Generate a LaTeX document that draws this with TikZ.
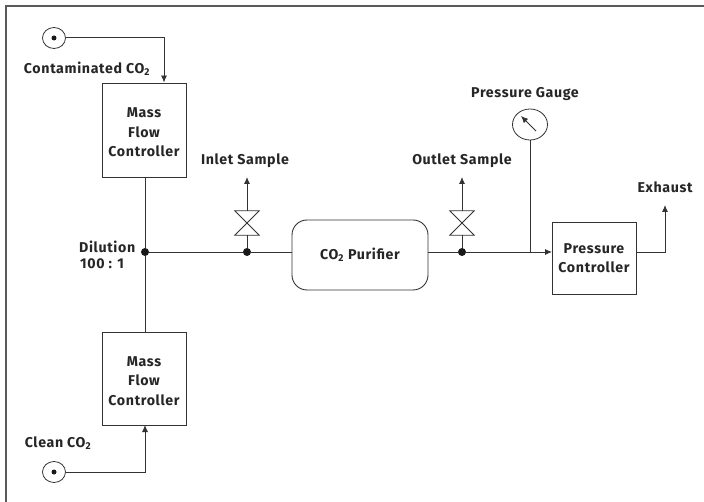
\documentclass[tikz,border=0pt]{standalone}
\usepackage{fontspec}
\setmainfont[LetterSpace=4.5]{Fira Sans}
\usetikzlibrary{arrows.meta}
\usetikzlibrary{shapes.geometric}
\tikzset{
  pipe/.style={draw=black!80,line width=0.9pt},
  flow/.style={pipe,-{Latex[length=7pt,width=6pt]}},
  txt/.style={font=\bfseries\fontsize{14.2}{19.5}\selectfont,text=black!85,inner sep=0pt,align=center},
  unit/.style={draw=black!80,line width=0.9pt,minimum width=84pt},
  joint/.style={circle,fill=black!90,inner sep=0pt,minimum size=8pt},
  source/.style={ellipse,draw=black!80,line width=0.8pt,inner sep=0pt,minimum width=23pt,minimum height=21pt},
  valve/.style={inner sep=0pt,minimum size=24pt},
}
\begin{document}
\begin{tikzpicture}[x=1pt,y=-1pt]
\useasboundingbox (0,0) rectangle (704,502);
\fill[white] (0,0) rectangle (704,502);
\draw[black!65,line width=1.2pt] (704,6) -- (6,6) -- (6,502);
% sources
\node[source] (srcA) at (54,38) {};
\node[source] (srcB) at (54,472) {};
\foreach \s in {srcA,srcB} \fill[black!90] (\s) circle (2.5pt);
% controllers
\node[unit,minimum height=94pt,label={[txt,yshift=-2.5pt]center:Mass\\Flow\\Controller}] (mfcA) at (144,130) {};
\node[unit,minimum height=93pt,label={[txt,yshift=-2.5pt]center:Mass\\Flow\\Controller}] (mfcB) at (144,378.5) {};
\node[unit,minimum height=72pt,txt] (pc) at (594,258) {Pressure\\Controller};
\node[draw=black!80,line width=0.9pt,rounded corners=15pt,minimum width=136pt,minimum height=70pt,txt] (purifier) at (360,255) {CO\textsubscript{2} Purifier};
% joints
\node[joint] (dil) at (145,252) {};
\node[joint] (inlet) at (247,252) {};
\node[joint] (outlet) at (462,252) {};
% valves
\node[valve] (valveA) at (247,223) {};
\node[valve] (valveB) at (462,223) {};
\foreach \v in {valveA,valveB}
  \draw[black!80,line width=0.8pt] (\v.north west) -- (\v.north east) -- (\v.south west) -- (\v.south east) -- cycle;
% gauge
\node[ellipse,draw=black!80,line width=0.8pt,inner sep=0pt,minimum width=35pt,minimum height=31pt] (gauge) at (530,124.5) {};
\coordinate (needleA) at (536,131);
\coordinate (needleB) at (521,116);
\draw[flow,line width=0.8pt] (needleA) -- (needleB);
% free ends
\coordinate (inletEnd) at (247,177);
\coordinate (outletEnd) at (462,177);
\coordinate (exhaustEnd) at (665,205);
\coordinate (gaugeTee) at (530,252);
% pipes
\draw[flow] (srcA) ++(11.5,-1) -- (164,37) -- (mfcA.north -| 164,0);
\draw[flow] (srcB) ++(11.5,0) -- (145,472) -- (145,425);
\draw[pipe] (145,177) -- (dil) -- (145,332);
\draw[pipe] (dil) -- (inlet) -- (292,252);
\draw[pipe] (428,252) -- (outlet) -- (gaugeTee);
\draw[flow] (gaugeTee) -- (552,252);
\draw[pipe] (gauge) ++(0,15.5) -- (gaugeTee);
\draw[pipe] (inlet) -- (valveA.south);
\draw[flow] (valveA.north) -- (inletEnd);
\draw[pipe] (outlet) -- (valveB.south);
\draw[flow] (valveB.north) -- (outletEnd);
\draw[flow] (pc.east |- gaugeTee) -- (665,252) -- (exhaustEnd);
% labels
\node[txt] (lblA) at (87,69) {Contaminated CO\textsubscript{2}};
\node[txt] (lblB) at (58,443) {Clean CO\textsubscript{2}};
\node[txt,anchor=west] (lblC) at (79,247) {Dilution};
\node[txt,anchor=west] (lblD) at (80,264) {100 : 1};
\node[txt] (lblE) at (245,161) {Inlet Sample};
\node[txt] (lblF) at (462,161) {Outlet Sample};
\node[txt] (lblG) at (525,94) {Pressure Gauge};
\node[txt] (lblH) at (665,187) {Exhaust};
\end{tikzpicture}
\end{document}
